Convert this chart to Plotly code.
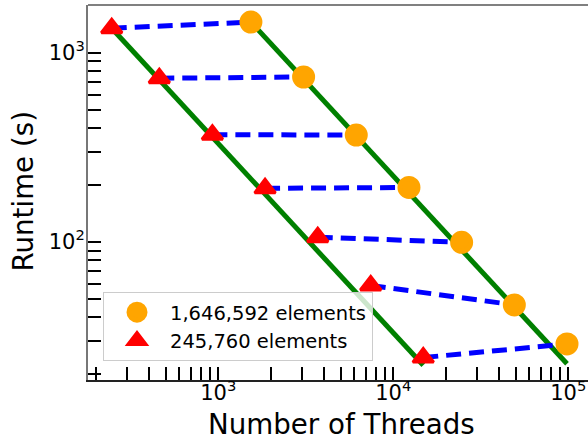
import plotly.graph_objects as go

# ---- data ----
threads_big = [1536, 3072, 6144, 12288, 24576, 49152, 98304]
runtime_big = [1452, 744, 367, 194, 99.6, 46.5, 28.9]
threads_small = [246, 460, 925, 1850, 3700, 7430, 14830]
runtime_small = [1346, 733, 369, 192, 106, 58.9, 24.5]

# ideal-scaling reference lines (end points)
ideal_big_x = [1536, 98304]
ideal_big_y = [1452, 22.7]
ideal_small_x = [246, 14830]
ideal_small_y = [1346, 22.3]

label_big = "1,646,592 elements"
label_small = "245,760 elements"

x_major = [1e3, 1e4, 1e5]
x_major_text = ["10<sup>3</sup>", "10<sup>4</sup>", "10<sup>5</sup>"]
y_major = [1e2, 1e3]
y_major_text = ["10<sup>2</sup>", "10<sup>3</sup>"]

x_minor = [m * 10 ** e for e in (2, 3, 4) for m in range(2, 10)]
y_minor = [m * 10 ** e for e in (1, 2) for m in range(2, 10)]

FONT = "DejaVu Sans"

fig = go.Figure()

# green ideal lines
for xs, ys in ((ideal_small_x, ideal_small_y), (ideal_big_x, ideal_big_y)):
    fig.add_trace(go.Scatter(x=xs, y=ys, mode="lines",
                             line=dict(color="#008000", width=5),
                             showlegend=False, hoverinfo="skip"))

# blue dashed connectors
cx, cy = [], []
for a, b, c, d in zip(threads_small, threads_big, runtime_small, runtime_big):
    cx += [a, b, None]
    cy += [c, d, None]
fig.add_trace(go.Scatter(x=cx, y=cy, mode="lines",
                         line=dict(color="#0000FF", width=5, dash="15px,8px"),
                         showlegend=False, hoverinfo="skip"))

fig.add_trace(go.Scatter(x=threads_big, y=runtime_big, mode="markers",
                         name=label_big,
                         marker=dict(symbol="circle", size=18, color="#FFA500",
                                     line=dict(width=5, color="#FFA500"))))
fig.add_trace(go.Scatter(x=threads_small, y=runtime_small, mode="markers",
                         name=label_small,
                         marker=dict(symbol="triangle-up", size=18, color="#FF0000",
                                     line=dict(width=3, color="#FF0000"))))

L, T, B = 88, 5, 57
fig.update_layout(
    width=588, height=437,
    margin=dict(l=L, r=0, t=T, b=B),
    paper_bgcolor="white", plot_bgcolor="white",
    font=dict(family=FONT, color="black"),
    legend=dict(x=0.03, y=0.2347, xanchor="left", yanchor="top",
                bgcolor="rgba(255,255,255,0.8)", bordercolor="#cccccc",
                borderwidth=1, font=dict(size=19.5, family=FONT),
                itemwidth=56),
    xaxis=dict(type="log", range=[2.2554, 5.1126],
               tickmode="array", tickvals=x_major + x_minor,
               ticktext=x_major_text + [""] * len(x_minor),
               ticks="inside", ticklen=13, tickwidth=2, tickcolor="black",
               tickfont=dict(size=21, family=FONT), ticklabelstandoff=-7,
               showgrid=False, zeroline=False,
               showline=True, linecolor="#222222", linewidth=2, mirror=False),
    yaxis=dict(type="log", range=[1.2705, 3.252],
               tickmode="array", tickvals=y_major + y_minor,
               ticktext=y_major_text + [""] * len(y_minor),
               ticks="inside", ticklen=13, tickwidth=2, tickcolor="black",
               tickfont=dict(size=21, family=FONT), ticklabelstandoff=-3,
               showgrid=False, zeroline=False,
               showline=True, linecolor="#777777", linewidth=2, mirror=False),
    shapes=[dict(type="line", xref="paper", yref="paper", x0=0, x1=1, y0=1, y1=1,
                 line=dict(color="#808080", width=2))],
    annotations=[
        dict(text="Number of Threads", xref="paper", yref="paper",
             x=(341 - L) / 500, y=-0.069, xanchor="center", yanchor="top",
             showarrow=False, font=dict(size=27.7, family=FONT)),
        dict(text="Runtime (s)", xref="paper", yref="paper",
             x=(23 - L) / 500, y=0.5027, xanchor="center", yanchor="middle",
             textangle=-90, showarrow=False, font=dict(size=27.7, family=FONT)),
    ],
)

fig.write_html("out.html")
